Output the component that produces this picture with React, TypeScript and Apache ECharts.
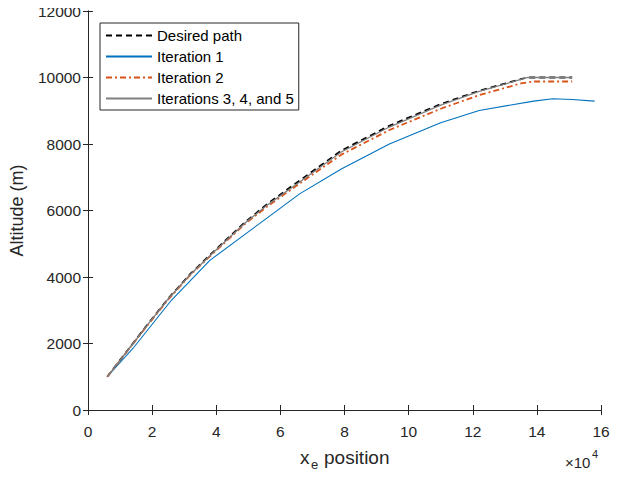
import React, { useEffect, useRef } from "react";
import * as echarts from "echarts";

// x positions in units of 1e4 m
const desiredX = [0.6, 1.2, 1.8, 2.5, 3.2, 3.9, 4.9, 5.6, 6.6, 7.9, 9.4, 11.0, 12.2, 13.5, 13.7, 15.1];
const desiredY = [1000, 1750, 2500, 3350, 4100, 4750, 5650, 6200, 6900, 7800, 8550, 9200, 9600, 9950, 10000, 10000];

const iter1X = [0.6, 1.4, 2.6, 3.8, 5.2, 6.6, 7.9, 9.4, 11.0, 12.2, 13.9, 14.5, 15.1, 15.8];
const iter1Y = [1000, 1850, 3300, 4500, 5500, 6500, 7250, 8000, 8640, 9010, 9290, 9360, 9340, 9290];

const iter2X = [0.6, 1.2, 1.8, 2.5, 3.2, 3.9, 4.9, 5.6, 6.6, 7.9, 9.4, 11.0, 12.2, 13.5, 13.9, 15.1];
const iter2Y = [1000, 1740, 2480, 3320, 4070, 4710, 5600, 6130, 6810, 7680, 8420, 9060, 9470, 9820, 9880, 9880];

const iter345X = [0.6, 1.2, 1.8, 2.5, 3.2, 3.9, 4.9, 5.6, 6.6, 7.9, 9.4, 11.0, 12.2, 13.5, 13.7, 15.1];
const iter345Y = [1000, 1745, 2490, 3340, 4085, 4730, 5625, 6170, 6860, 7760, 8510, 9170, 9580, 9940, 10000, 10000];

const xTicks = [0, 2, 4, 6, 8, 10, 12, 14, 16];
const yTicks = [0, 2000, 4000, 6000, 8000, 10000, 12000];

const seriesNames = ["Desired path", "Iteration 1", "Iteration 2", "Iterations 3, 4, and 5"];

const zip = (xs: number[], ys: number[]) => xs.map((x, i) => [x * 10000, ys[i]]);

const AX = "#262626";
const FONT = "'Liberation Sans', Arial, Helvetica, sans-serif";

export default function App() {
  const ref = useRef<HTMLDivElement>(null);
  useEffect(() => {
    const chart = echarts.init(ref.current!, null, { renderer: "svg" });
    const xStep = (xTicks[1] - xTicks[0]) * 10000;
    const yStep = yTicks[1] - yTicks[0];
    const xBase = {
      type: "value" as const,
      min: xTicks[0] * 10000,
      max: xTicks[xTicks.length - 1] * 10000,
      interval: xStep,
      splitLine: { show: false },
      axisLine: { show: true, lineStyle: { color: AX, width: 1 } },
      axisTick: { show: true, inside: true, length: 5, lineStyle: { color: AX } },
    };
    const yBase = {
      type: "value" as const,
      min: yTicks[0],
      max: yTicks[yTicks.length - 1],
      interval: yStep,
      splitLine: { show: false },
      axisLine: { show: true, lineStyle: { color: AX, width: 1 } },
      axisTick: { show: true, inside: true, length: 5, lineStyle: { color: AX } },
    };
    chart.setOption({
      animation: false,
      backgroundColor: "#ffffff",
      grid: { left: 87, right: 17, top: 11, bottom: 67, containLabel: false },
      xAxis: [
        {
          ...xBase,
          position: "bottom",
          axisLabel: {
            color: AX,
            fontSize: 15.5,
            fontFamily: FONT,
            margin: 13,
            formatter: (v: number) => String(v / 10000),
          },
        },
        { ...xBase, position: "top", axisLabel: { show: false } },
      ],
      yAxis: [
        {
          ...yBase,
          position: "left",
          name: "Altitude (m)",
          nameLocation: "middle",
          nameGap: 62,
          nameTextStyle: { color: AX, fontSize: 18, fontFamily: FONT },
          axisLabel: {
            color: AX,
            fontSize: 15.5,
            fontFamily: FONT,
            margin: 7,
            formatter: (v: number) => String(v),
          },
        },
        { ...yBase, position: "right", axisLabel: { show: false } },
      ],
      legend: {
        orient: "vertical",
        left: 100,
        top: 23,
        padding: [5, 5, 4, 5],
        itemWidth: 46,
        itemHeight: 14,
        itemGap: 6,
        borderColor: AX,
        borderWidth: 1,
        backgroundColor: "#ffffff",
        itemStyle: { opacity: 0 },
        textStyle: { color: "#000000", fontSize: 15, fontFamily: FONT, padding: [0, 0, 0, 0] },
        data: seriesNames,
      },
      series: [
        {
          name: seriesNames[0],
          type: "line",
          data: zip(desiredX, desiredY),
          symbol: "none",
          lineStyle: { color: "#000000", width: 1.8, type: [6, 4] },
          itemStyle: { color: "#000000" },
        },
        {
          name: seriesNames[1],
          type: "line",
          data: zip(iter1X, iter1Y),
          symbol: "none",
          lineStyle: { color: "#0072BD", width: 1.1 },
          itemStyle: { color: "#0072BD" },
        },
        {
          name: seriesNames[2],
          type: "line",
          data: zip(iter2X, iter2Y),
          symbol: "none",
          lineStyle: { color: "#D95319", width: 1.8, type: [6, 3, 2, 3] },
          itemStyle: { color: "#D95319" },
        },
        {
          name: seriesNames[3],
          type: "line",
          data: zip(iter345X, iter345Y),
          symbol: "none",
          lineStyle: { color: "#808080", width: 1.3 },
          itemStyle: { color: "#808080" },
        },
      ],
      graphic: [
        { type: "text", left: 300, top: 448, style: { text: "x", fontSize: 19, fontFamily: FONT, fill: AX } },
        { type: "text", left: 311, top: 458, style: { text: "e", fontSize: 13, fontFamily: FONT, fill: AX } },
        { type: "text", left: 324, top: 448, style: { text: "position", fontSize: 19, fontFamily: FONT, fill: AX } },
        { type: "text", left: 565, top: 455, style: { text: "×10", fontSize: 15, fontFamily: FONT, fill: AX } },
        { type: "text", left: 592, top: 448, style: { text: "4", fontSize: 11, fontFamily: FONT, fill: AX } },
      ],
    });
    return () => chart.dispose();
  }, []);
  return <div ref={ref} style={{ width: 618, height: 477, margin: -8 }} />;
}
